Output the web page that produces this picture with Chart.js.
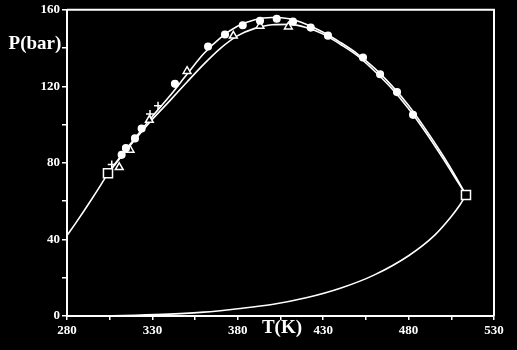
<!DOCTYPE html>
<html>
<head>
<meta charset="utf-8">
<script src="https://cdn.jsdelivr.net/npm/chart.js@4.4.1/dist/chart.umd.min.js"></script>
<style>
html,body{margin:0;padding:0;background:#000;}
canvas{display:block;}
</style>
</head>
<body>
<canvas id="c" width="517" height="350"></canvas>
<script>
// Axis ticks
const xTicks = [280, 330, 380, 430, 480, 530];
const yTicks = [0, 40, 80, 120, 160];

// Vapour pressure curve, component 1 (left, low T)
const vap1T = [280, 285, 290, 295, 300, 304.0];
const vap1P = [42.0, 48.4, 55.0, 61.8, 68.8, 74.6];

// Vapour pressure curve, component 2 (bottom)
const vap2T = [300, 320, 340, 360, 380, 400, 420, 440, 460, 480, 495, 505, 510, 513.6];
const vap2P = [0, 0.4, 1.0, 2.0, 3.8, 6.0, 9.5, 14.5, 21.5, 31.5, 42, 52, 58, 63.2];

// Critical line, outer curve
const outerT = [304.0, 310, 320, 330, 340, 350, 360, 370, 380, 390, 400, 410, 420, 430, 440, 450, 460, 470, 480, 490, 500, 508, 513.6];
const outerP = [74.6, 81.8, 93.2, 104.3, 114.8, 126, 137, 145.5, 151.5, 154.8, 156, 155.3, 152.5, 148.3, 143, 137, 129.5, 120.5, 110, 97.5, 84, 72.2, 63.2];

// Critical line, inner curve
const innerT = [304.0, 310, 320, 330, 340, 350, 360, 370, 380, 390, 400, 410, 420, 430, 440, 450, 460, 470, 480, 490, 500, 508, 513.6];
const innerP = [74.6, 81.3, 92.3, 102.8, 112.3, 122, 131.5, 140, 146.5, 150.3, 152.2, 152.4, 150.8, 147.3, 142, 136, 128, 119, 108.3, 96, 82.5, 71.2, 63.2];

// Experimental points: circles
const circT = [312.0, 314.5, 319.8, 323.7, 343.2, 362.6, 372.5, 382.9, 393.0, 402.8, 412.3, 422.7, 432.8, 453.3, 463.3, 473.2, 482.6];
const circP = [84.2, 87.7, 92.8, 98.0, 121.3, 140.8, 147.1, 151.9, 154.3, 155.3, 153.8, 150.7, 146.5, 135.1, 126.3, 117.0, 105.1];

// Experimental points: triangles
const triT = [310.6, 316.9, 328.2, 350.3, 377.4, 393.0, 409.6];
const triP = [77.7, 86.8, 102.4, 127.9, 146.4, 151.6, 151.2];

// Experimental points: plus signs
const plusT = [306.2, 328.6, 333.3];
const plusP = [79.1, 105.6, 109.8];

// Critical points of pure components (squares)
const critT = [304.0, 513.6];
const critP = [74.6, 63.2];

const pts = (xs, ys) => xs.map((x, i) => ({x: x, y: ys[i]}));

const lineDs = (label, xs, ys) => ({
  label: label, type: 'line', data: pts(xs, ys),
  borderColor: '#fff', borderWidth: 1.6, pointRadius: 0,
  cubicInterpolationMode: 'monotone', fill: false, order: 2
});
const markDs = (label, xs, ys, style, r, bg) => ({
  label: label, type: 'scatter', data: pts(xs, ys),
  pointStyle: style, pointRadius: r, pointBackgroundColor: bg,
  pointBorderColor: '#fff', pointBorderWidth: 1.5, showLine: false, order: 1
});

const bgPlugin = {
  id: 'bg',
  beforeDraw(chart) {
    const ctx = chart.ctx;
    ctx.save();
    ctx.fillStyle = '#000';
    ctx.fillRect(0, 0, chart.width, chart.height);
    ctx.restore();
  },
  afterDraw(chart) {
    const ctx = chart.ctx, a = chart.chartArea;
    ctx.save();
    ctx.strokeStyle = '#fff';
    ctx.lineWidth = 2;
    ctx.beginPath();
    ctx.moveTo(a.left, a.top);
    ctx.lineTo(a.right, a.top);
    ctx.lineTo(a.right, a.bottom);
    ctx.stroke();
    ctx.fillStyle = '#fff';
    ctx.font = 'bold 19px "Liberation Serif", serif';
    ctx.textAlign = 'center';
    ctx.textBaseline = 'middle';
    ctx.fillText('P(bar)', 35, 44);
    ctx.fillText('T(K)', 282, 328);
    ctx.restore();
  }
};

new Chart(document.getElementById('c'), {
  data: {
    datasets: [
      lineDs('vap1', vap1T, vap1P),
      lineDs('vap2', vap2T, vap2P),
      lineDs('outer', outerT, outerP),
      lineDs('inner', innerT, innerP),
      markDs('circles', circT, circP, 'circle', 3.3, '#fff'),
      markDs('triangles', triT, triP, 'triangle', 4.5, '#000'),
      markDs('plus', plusT, plusP, 'cross', 4, '#fff'),
      markDs('crit', critT, critP, 'rect', 6.4, '#000')
    ]
  },
  options: {
    responsive: false,
    animation: false,
    devicePixelRatio: 1,
    layout: {padding: {top: 7, right: 23, left: 0, bottom: 0}},
    plugins: {legend: {display: false}, tooltip: {enabled: false}},
    scales: {
      x: {
        type: 'linear', min: 280, max: 530,
        afterFit(s) { s.height = 34; },
        border: {color: '#fff', width: 2},
        grid: {drawOnChartArea: false, drawTicks: true, tickLength: 4, color: '#fff', tickColor: '#fff', lineWidth: 1.5},
        ticks: {
          stepSize: 25, autoSkip: false, maxRotation: 0, padding: 3,
          color: '#fff', font: {family: '"Liberation Serif", serif', size: 13, weight: 'bold'},
          callback: v => xTicks.includes(v) ? String(v) : ''
        }
      },
      y: {
        type: 'linear', min: 0, max: 160,
        afterFit(s) { s.width = 67; },
        border: {color: '#fff', width: 2},
        grid: {drawOnChartArea: false, drawTicks: true, tickLength: 5, color: '#fff', tickColor: '#fff', lineWidth: 1.5},
        ticks: {
          stepSize: 20, autoSkip: false, padding: 2,
          color: '#fff', font: {family: '"Liberation Serif", serif', size: 13, weight: 'bold'},
          callback: v => yTicks.includes(v) ? String(v) : ''
        }
      }
    }
  },
  plugins: [bgPlugin]
});
</script>
</body>
</html>
